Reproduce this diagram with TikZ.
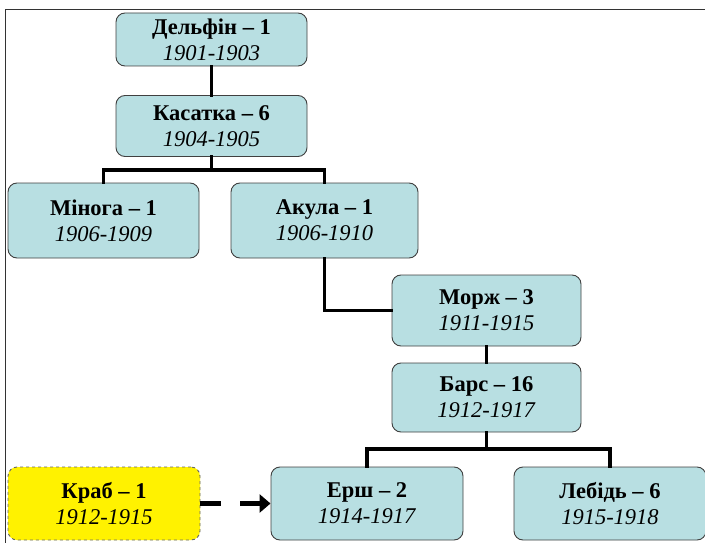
\documentclass[tikz,border=0pt]{standalone}
\usepackage{fontspec}
\setmainfont{Liberation Serif}
\usetikzlibrary{arrows.meta}
\definecolor{boxfill}{HTML}{B8DFE2}
\definecolor{boxline}{HTML}{404040}
\tikzset{
  card/.style={draw=boxline, line width=0.9pt, fill=boxfill, rounded corners=9pt, minimum width=#1, align=center, inner sep=0pt, font=\fontsize{22.5}{26}\selectfont},
  card/.default=191pt,
  link/.style={line width=3.6pt, line cap=rect},
}
\newcommand{\cardtext}[2]{\textbf{#1}\\\textit{#2}}
\begin{document}
\begin{tikzpicture}[x=1pt,y=-1pt]
\useasboundingbox (0,0) rectangle (705,543);
\draw[line width=1pt, black!80] (5,543) -- (5,10) -- (705,10);
% nodes (centre x, centre y; height)
\node[card, minimum height=53pt] (delf) at (211.5,39.5) {\cardtext{Дельфін – 1}{1901-1903}};
\node[card, minimum height=61pt] (kas) at (211.5,126) {\cardtext{Касатка – 6}{1904-1905}};
\node[card, minimum height=75pt] (min) at (103.5,220.5) {\cardtext{Мінога – 1}{1906-1909}};
\node[card, minimum height=75pt, minimum width=187pt] (akul) at (324.5,220.5) {\cardtext{Акула – 1}{1906-1910}};
\node[card, minimum height=71pt, minimum width=189pt] (morzh) at (486.5,310.5) {\cardtext{Морж – 3}{1911-1915}};
\node[card, minimum height=69pt, minimum width=189pt] (bars) at (486.5,397.5) {\cardtext{Барс – 16}{1912-1917}};
\node[card, minimum height=73pt, minimum width=192pt, fill=yellow, draw=black!60, dashed] (krab) at (104,503.5) {\cardtext{Краб – 1}{1912-1915}};
\node[card, minimum height=73pt, minimum width=192pt] (ersh) at (367,503.5) {\cardtext{Ерш – 2}{1914-1917}};
\node[card, minimum height=73pt, minimum width=192pt] (lebid) at (610,503.5) {\cardtext{Лебідь – 6}{1915-1918}};
% connectors
\draw[link] (delf.south) -- (kas.north);
\coordinate (k1) at (211.5,170);
\draw[link] (kas.south) -- (k1);
\draw[link] (min.north) |- (k1) -| (akul.north);
\draw[link] (akul.south) |- (morzh.west);
\draw[link] (morzh.south) -- (bars.north);
\coordinate (b1) at (486.5,449);
\draw[link] (bars.south) -- (b1);
\draw[link] (ersh.north) |- (b1) -| (lebid.north);
\draw[line width=5pt, dash pattern=on 21pt off 19pt, -{Triangle[length=11pt,width=18pt]}] (krab.east) -- (ersh.west);
\end{tikzpicture}
\end{document}
